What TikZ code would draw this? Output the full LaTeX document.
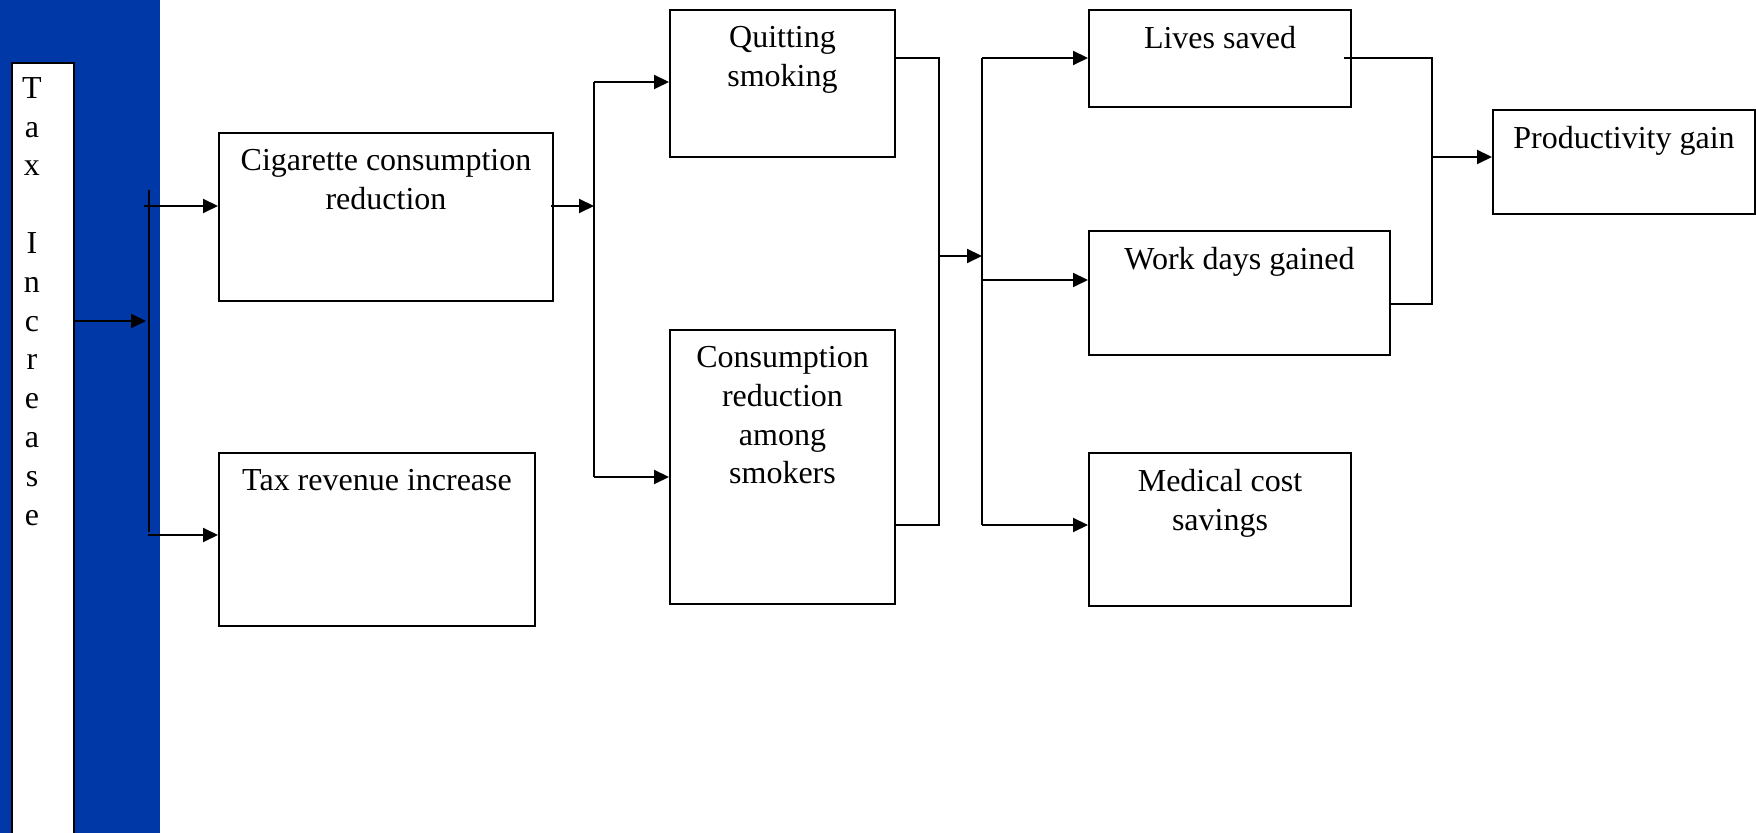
\documentclass[tikz,border=0pt]{standalone}
\usepackage{fontspec}
\setmainfont{Liberation Serif}
\usetikzlibrary{arrows.meta}
\definecolor{taxblue}{RGB}{0,56,168}

\begin{document}
\begin{tikzpicture}[x=0.5pt, y=-0.5pt,
        font=\fontsize{16}{19.4}\selectfont,
        box/.style 2 args={draw, line width=1pt, fill=white, anchor=north west, inner sep=0pt, minimum width=#1, minimum height=#2},
        txt/.style={anchor=north, align=center, inner sep=0pt, yshift=-8.5pt},
        line/.style={line width=1pt},
        arr/.style={line width=1pt, -{Triangle[length=7.5pt,width=7pt]}}]

        \useasboundingbox (0,0) rectangle (1756,833);
        \clip (0,0) rectangle (1756,833);

        % blue band
        \fill[taxblue] (0,0) rectangle (160,833);

        % boxes
        \node[box={31pt}{391.5pt}, label={[txt, yshift=1pt, xshift=-5.5pt]north:T\\a\\x\\[19.4pt]I\\n\\c\\r\\e\\a\\s\\e}] (tax) at (11,62) {};
        \node[box={167pt}{84pt}, label={[txt]north:Cigarette consumption\\reduction}] (cig) at (218,132) {};
        \node[box={158pt}{86.5pt}, label={[txt]north:Tax revenue increase}] (rev) at (218,452) {};
        \node[box={112.5pt}{73.5pt}, label={[txt]north:Quitting\\smoking}] (quit) at (669,9) {};
        \node[box={112.5pt}{137pt}, label={[txt]north:Consumption\\reduction\\among\\smokers}] (cons) at (669,329) {};
        \node[box={131pt}{48.5pt}, label={[txt]north:Lives saved}] (lives) at (1088,9) {};
        \node[box={150.5pt}{62pt}, label={[txt]north:Work days gained}] (work) at (1088,230) {};
        \node[box={131pt}{76.5pt}, label={[txt]north:Medical cost\\savings}] (med) at (1088,452) {};
        \node[box={131pt}{52pt}, label={[txt]north:Productivity gain}] (prod) at (1492,109) {};

        % junction points
        \coordinate (b1t) at (149,190);\coordinate (b1m) at (149,321);\coordinate (b1b) at (149,532);
        \coordinate (b1u) at (144,206);\coordinate (b1d) at (148,535);
        \coordinate (s1) at (594,206);\coordinate (s1t) at (594,82);\coordinate (s1b) at (594,477);
        \coordinate (m1) at (939,256);\coordinate (m1t) at (939,58);\coordinate (m1b) at (939,525);
        \coordinate (s2) at (982,256);\coordinate (s2t) at (982,58);\coordinate (s2m) at (982,280);\coordinate (s2b) at (982,525);
        \coordinate (m2) at (1432,157);\coordinate (m2t) at (1432,58);\coordinate (m2b) at (1432,304);

        % tax increase split
        \draw[arr, shorten >=1.5pt] (tax.east |- b1m) -- (b1m);
        \draw[line] (b1t) -- (b1b);
        \draw[arr] (b1u) -- (cig.west |- b1u);
        \draw[arr] (b1d) -- (rev.west |- b1d);

        % consumption split
        \draw[arr, shorten <=-1.5pt] (cig.east |- s1) -- (s1);
        \draw[line] (s1t) -- (s1b);
        \draw[arr] (s1t) -- (quit.west |- s1t);
        \draw[arr] (s1b) -- (cons.west |- s1b);

        % outcomes
        \draw[line] (quit.east |- m1t) -- (m1t) -- (m1b) -- (cons.east |- m1b);
        \draw[arr] (m1) -- (s2);
        \draw[line] (s2t) -- (s2b);
        \draw[arr] (s2t) -- (lives.west |- s2t);
        \draw[arr] (s2m) -- (work.west |- s2m);
        \draw[arr] (s2b) -- (med.west |- s2b);

        % productivity
        \draw[line, shorten <=-4pt] (lives.east |- m2t) -- (m2t) -- (m2b) -- (work.east |- m2b);
        \draw[arr] (m2) -- (prod.west |- m2);
\end{tikzpicture}
\end{document}
